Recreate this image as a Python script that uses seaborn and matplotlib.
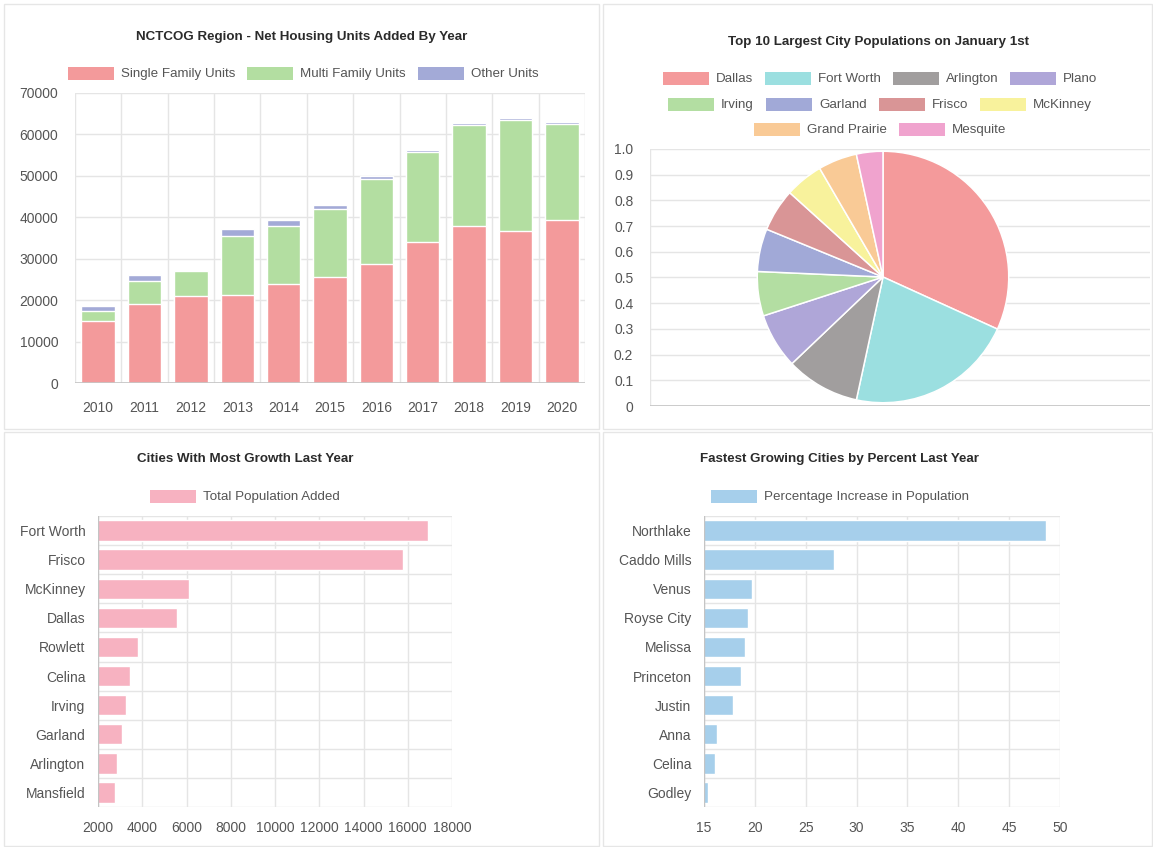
import numpy as np
import matplotlib
matplotlib.use("Agg")
import matplotlib.pyplot as plt
import seaborn as sns
from matplotlib.patches import Rectangle

# ---------- data ----------
# NCTCOG net housing units added by year
years = ["2010", "2011", "2012", "2013", "2014", "2015",
         "2016", "2017", "2018", "2019", "2020"]
single_family = [15000, 19100, 20900, 21200, 24000, 25600, 28800, 34000, 37800, 36600, 39400]
multi_family = [2500, 5600, 6100, 14400, 13800, 16400, 20500, 21700, 24500, 26800, 23200]
other_units = [1000, 1300, 0, 1600, 1500, 1000, 700, 500, 400, 600, 500]

# top 10 largest cities (share of the ten, percent)
pie_cities = ["Dallas", "Fort Worth", "Arlington", "Plano", "Irving",
              "Garland", "Frisco", "McKinney", "Grand Prairie", "Mesquite"]
pie_share = [31.8, 21.6, 9.5, 7.1, 5.7, 5.5, 5.5, 4.9, 5.0, 3.4]

# cities with most growth last year
growth_cities = ["Fort Worth", "Frisco", "McKinney", "Dallas", "Rowlett",
                 "Celina", "Irving", "Garland", "Arlington", "Mansfield"]
pop_added = [16900, 15800, 6100, 5550, 3800, 3450, 3280, 3070, 2870, 2760]

# fastest growing cities by percent
pct_cities = ["Northlake", "Caddo Mills", "Venus", "Royse City", "Melissa",
              "Princeton", "Justin", "Anna", "Celina", "Godley"]
pct_increase = [48.6, 27.8, 19.7, 19.3, 19.0, 18.6, 17.9, 16.3, 16.1, 15.4]

# ---------- colours / styles ----------
single_col = "#f39a9b"
multi_col = "#b3dea1"
other_col = "#a3aad7"
pie_colors = ["#f49a9b", "#9bdfe0", "#a19e9e", "#afa6d8", "#b3dea2",
              "#a1a9d7", "#d99596", "#f8f29c", "#f9ca96", "#f0a3ce"]
pink_col = "#f7b2c1"
blue_col = "#a6cfeb"
grid_col = "#e5e5e5"
zero_col = "#c4c4c4"
tick_col = "#555555"
title_col = "#2b2b2b"

sns.set_theme(style="white")
plt.rcParams["font.family"] = ["Liberation Sans", "DejaVu Sans"]

W, H = 1153, 847
fig = plt.figure(figsize=(W / 100, H / 100), dpi=100)
fig.patch.set_facecolor("white")
renderer = fig.canvas.get_renderer()


def px_axes(left, top, right, bottom):
    # axes placed by pixel box of the reference
    return fig.add_axes([left / W, 1 - bottom / H, (right - left) / W, (bottom - top) / H])


def card(left, top, right, bottom):
    fig.add_artist(Rectangle((left / W, 1 - bottom / H), (right - left) / W, (bottom - top) / H,
                             transform=fig.transFigure, facecolor="white",
                             edgecolor="#e6e6e6", linewidth=1, zorder=-10))


def title(text, xc, y):
    fig.text(xc / W, 1 - y / H, text, ha="center", va="center", fontsize=9.6,
             fontweight="bold", color=title_col)


def legend_row(labels, colors, xc, y, box_w=46, box_h=13, gap=7, spacing=12):
    # chart.js style legend row, centred on xc
    texts, widths = [], []
    for lab in labels:
        t = fig.text(0, 1 - y / H, lab, ha="left", va="center", fontsize=9.6, color=tick_col)
        texts.append(t)
        widths.append(t.get_window_extent(renderer).width)
    total = sum(box_w + gap + w for w in widths) + spacing * (len(labels) - 1)
    x = xc - total / 2
    for t, w, col in zip(texts, widths, colors):
        fig.add_artist(Rectangle((x / W, 1 - (y + box_h / 2) / H), box_w / W, box_h / H,
                                 transform=fig.transFigure, facecolor=col, edgecolor="none"))
        t.set_x((x + box_w + gap) / W)
        x += box_w + gap + w + spacing


def style_axes(ax):
    for s in ax.spines.values():
        s.set_visible(False)
    ax.set_xlabel("")
    ax.set_ylabel("")
    ax.tick_params(colors=tick_col, labelsize=10)


card(4, 4, 599, 429)
card(603, 4, 1152, 429)
card(4, 432, 599, 846)
card(603, 432, 1152, 846)

# ---------- top left: stacked housing units ----------
ax1 = px_axes(75, 93, 585, 383)
cum_multi = np.array(single_family) + np.array(multi_family)
cum_other = cum_multi + np.array(other_units)
for vals, col in [(cum_other, other_col), (cum_multi, multi_col), (single_family, single_col)]:
    sns.barplot(x=years, y=vals, color=col, saturation=1, width=0.72, ax=ax1, zorder=2)
ax1.set_ylim(0, 70000)
ax1.set_xlim(-0.5, len(years) - 0.5)
ax1.set_yticks(range(0, 70001, 10000))
ax1.set_xticks(np.arange(-0.5, len(years)), minor=True)
style_axes(ax1)
ax1.grid(axis="y", color=grid_col, lw=1, zorder=0)
ax1.grid(axis="x", which="minor", color=grid_col, lw=1, zorder=0)
ax1.tick_params(axis="x", which="major", length=0, pad=13)
ax1.tick_params(axis="x", which="minor", length=8, color=grid_col)
ax1.tick_params(axis="y", length=9, color=grid_col, pad=3)
ax1.axhline(0, color=zero_col, lw=1.2, zorder=3)
title("NCTCOG Region - Net Housing Units Added By Year", 302, 37)
legend_row(["Single Family Units", "Multi Family Units", "Other Units"],
           [single_col, multi_col, other_col], 303, 74)

# ---------- top right: pie over an empty 0..1 axis ----------
bg = px_axes(650, 149, 1150, 406)
bg.set_ylim(0, 1)
bg.set_xlim(0, 1)
bg.set_yticks(np.round(np.arange(0, 1.01, 0.1), 1))
bg.set_yticklabels(["0"] + [f"{v:.1f}" for v in np.arange(0.1, 1.01, 0.1)])
bg.set_xticks([])
style_axes(bg)
bg.grid(axis="y", color=grid_col, lw=1)
bg.tick_params(axis="y", length=9, color=grid_col, pad=3)
bg.axvline(0, color=grid_col, lw=1)
bg.axhline(0, color=zero_col, lw=1.2)

pie_ax = px_axes(756, 150, 1010, 404)
pie_ax.pie(pie_share, colors=pie_colors, startangle=90, counterclock=False,
           wedgeprops=dict(edgecolor="white", linewidth=1.1))
pie_ax.set_xlim(-1.01, 1.01)
pie_ax.set_ylim(-1.01, 1.01)
pie_ax.set_aspect("equal")
title("Top 10 Largest City Populations on January 1st", 879, 42)
legend_row(pie_cities[0:4], pie_colors[0:4], 880, 79)
legend_row(pie_cities[4:8], pie_colors[4:8], 880, 105)
legend_row(pie_cities[8:10], pie_colors[8:10], 880, 130)

# ---------- bottom left: population added ----------
ax3 = px_axes(98, 516, 452, 807)
sns.barplot(x=pop_added, y=growth_cities, orient="h", color=pink_col,
            saturation=1, width=0.7, ax=ax3, zorder=2)
ax3.set_xlim(2000, 18000)
ax3.set_xticks(range(2000, 18001, 2000))
ax3.set_yticks(np.arange(-0.5, len(growth_cities)), minor=True)
style_axes(ax3)
ax3.grid(axis="x", color=grid_col, lw=1, zorder=0)
ax3.grid(axis="y", which="minor", color=grid_col, lw=1, zorder=0)
ax3.tick_params(axis="y", which="major", length=0, pad=9)
ax3.tick_params(axis="y", which="minor", length=8, color=grid_col)
ax3.tick_params(axis="x", length=8, color=grid_col, pad=2)
ax3.axvline(2000, color=zero_col, lw=1, zorder=3)
title("Cities With Most Growth Last Year", 245, 459)
legend_row(["Total Population Added"], [pink_col], 245, 497)

# ---------- bottom right: percent increase ----------
ax4 = px_axes(704, 516, 1060, 807)
sns.barplot(x=pct_increase, y=pct_cities, orient="h", color=blue_col,
            saturation=1, width=0.7, ax=ax4, zorder=2)
ax4.set_xlim(15, 50)
ax4.set_xticks(range(15, 51, 5))
ax4.set_yticks(np.arange(-0.5, len(pct_cities)), minor=True)
style_axes(ax4)
ax4.grid(axis="x", color=grid_col, lw=1, zorder=0)
ax4.grid(axis="y", which="minor", color=grid_col, lw=1, zorder=0)
ax4.tick_params(axis="y", which="major", length=0, pad=9)
ax4.tick_params(axis="y", which="minor", length=8, color=grid_col)
ax4.tick_params(axis="x", length=8, color=grid_col, pad=2)
ax4.axvline(15, color=zero_col, lw=1, zorder=3)
title("Fastest Growing Cities by Percent Last Year", 840, 459)
legend_row(["Percentage Increase in Population"], [blue_col], 840, 497)

fig.savefig("out.png", dpi=100)
